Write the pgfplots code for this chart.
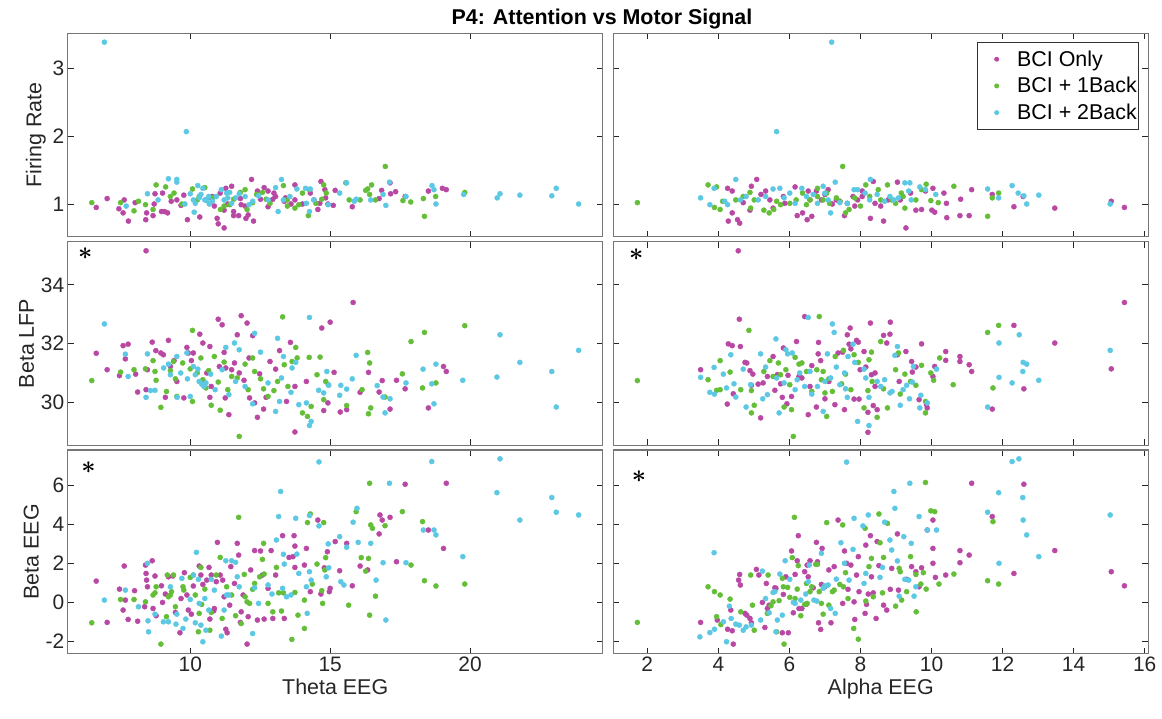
\documentclass[border=0pt]{standalone}
\usepackage{pgfplots}
\pgfplotsset{compat=1.18}
\usepackage{fontspec}
\setmainfont{Liberation Sans}

\definecolor{mag}{RGB}{184,72,164}
\definecolor{grn}{RGB}{100,190,55}
\definecolor{cyn}{RGB}{92,200,228}
\definecolor{boxc}{RGB}{118,118,118}
\definecolor{txt}{RGB}{38,38,38}

\pgfplotsset{
  panel/.style={
    scale only axis, width=535bp, height=203.5bp,
    axis line style={draw=boxc, line width=1.3bp},
    xtick pos=both, ytick pos=both,
    xticklabel pos=lower, yticklabel pos=left,
    tick align=inside,
    major tick length=6bp,
    major tick style={draw=txt, line width=0.8bp},
    minor tick num=0,
    ticklabel style={font=\fontsize{21}{21}\selectfont, text=txt},
    /pgf/number format/assume math mode=true,
    label style={font=\fontsize{21.5}{21.5}\selectfont, text=txt},
  },
  colL/.style={xmin=5.62, xmax=24.74, xtick={10,15,20}},
  colR/.style={xmin=1.04, xmax=16.10, xtick={2,4,6,8,10,12,14,16}, yticklabels={}},
  rowT/.style={ymin=0.53, ymax=3.51, ytick={1,2,3}, xticklabels={}},
  rowM/.style={ymin=28.54, ymax=35.47, ytick={30,32,34}, xticklabels={}},
  rowB/.style={ymin=-2.61, ymax=7.79, ytick={-2,0,2,4,6}},
  dots/.style={only marks, mark=*, color=#1, mark size=2.55bp, mark options={line width=0.4bp, draw=#1, fill=#1}, forget plot},
}
\DeclareRobustCommand{\bast}{{\boldmath$\ast$}}
\newcommand{\sigmark}[2]{\node[font=\fontsize{30}{30}\selectfont, inner sep=0pt, text=black] at (rel axis cs:#1,#2) {\bast};}

\begin{document}
\begin{tikzpicture}
\useasboundingbox (0bp,0bp) rectangle (1162bp,719bp);

\node[font=\bfseries\fontsize{21.5}{21.5}\selectfont, text=black] at (602bp,700bp) {P4: Attention vs Motor Signal};

% ---------------- Firing Rate vs Theta EEG
\begin{axis}[panel, colL, rowT, at={(67.7bp,685.7bp)}, anchor=north west, ylabel={Firing Rate}]
\addplot[dots=mag] coordinates {(6.64,0.96)(7.03,1.09)(7.45,0.94)(7.60,0.88)(7.79,0.76)(7.64,1.07)(8.03,1.03)(8.41,0.78)(8.44,0.88)(8.67,0.84)(8.74,1.16)(8.71,1.01)(8.97,0.90)(9.08,0.90)(9.19,0.88)(9.01,1.17)(9.32,1.05)(9.52,1.07)(9.67,0.99)(9.77,1.14)(9.90,0.78)(10.34,0.82)(10.55,1.07)(10.70,1.11)(10.86,0.98)(10.96,0.80)(11.00,0.72)(11.21,0.66)(11.21,0.92)(11.27,1.24)(11.34,1.01)(11.48,1.27)(11.55,0.90)(11.55,0.84)(11.73,0.84)(11.79,1.09)(11.99,0.80)(12.07,0.85)(12.19,1.37)(12.26,0.76)(12.40,1.20)(12.51,1.08)(12.64,1.25)(12.78,0.97)(12.95,1.08)(13.05,1.12)(13.36,1.05)(13.60,1.01)(13.74,1.29)(14.01,1.01)(14.67,1.34)(14.81,1.22)(14.92,1.01)(15.11,0.99)(15.18,1.21)(15.79,0.97)(16.75,1.09)(16.84,1.21)(17.14,1.32)(17.16,1.16)(17.34,1.19)(17.68,1.12)(18.51,1.20)(19.01,1.24)(19.15,1.22)(10.79,1.12)(11.07,1.17)(11.82,1.00)(11.96,0.98)(12.78,1.20)(12.99,1.17)(13.40,1.10)(13.74,1.07)(14.29,1.17)(14.42,1.07)(14.63,1.02)(14.84,1.10)(14.56,0.93)};
\addplot[dots=grn] coordinates {(6.48,1.03)(7.51,1.03)(7.99,0.91)(8.15,1.05)(8.40,1.00)(8.67,0.93)(8.78,1.29)(9.12,1.26)(9.42,1.17)(9.29,1.12)(9.70,1.01)(10.08,1.23)(10.25,1.07)(10.52,1.25)(10.81,1.10)(11.08,0.93)(11.21,0.98)(11.55,1.08)(11.79,1.18)(11.96,1.22)(12.03,0.93)(12.23,1.03)(12.37,1.15)(12.58,1.18)(12.71,1.08)(12.85,1.02)(13.33,1.28)(13.47,0.98)(13.74,0.95)(13.88,1.00)(14.01,1.17)(14.22,0.84)(14.26,1.22)(14.49,1.02)(14.77,1.29)(14.86,1.17)(14.70,1.08)(15.56,1.32)(15.68,1.07)(16.07,1.07)(16.27,1.21)(16.34,1.23)(16.48,1.29)(16.41,1.15)(16.62,1.07)(16.97,1.56)(17.60,1.06)(17.88,1.04)(18.33,1.09)(18.37,0.83)(18.77,1.12)(19.81,1.18)(10.32,1.12)(11.41,1.00)(13.47,1.07)};
\addplot[dots=cyn] coordinates {(6.93,3.38)(9.86,2.07)(7.71,0.98)(8.47,1.16)(8.85,1.07)(9.22,1.38)(9.52,1.37)(9.52,1.33)(10.00,1.16)(10.14,0.89)(10.27,1.28)(10.32,1.10)(10.45,1.24)(10.59,1.06)(10.68,1.01)(10.93,1.12)(11.11,1.22)(11.30,1.17)(11.41,1.18)(11.62,1.10)(11.75,1.16)(12.23,1.05)(12.44,1.13)(12.78,1.07)(13.05,1.25)(13.14,0.90)(13.26,1.37)(13.33,1.07)(13.56,1.12)(13.81,1.23)(14.12,1.24)(14.29,1.23)(14.15,1.02)(14.26,0.90)(14.42,1.07)(14.93,1.00)(15.34,1.17)(15.59,1.32)(15.86,1.05)(15.93,1.08)(16.45,1.07)(16.89,1.15)(16.99,0.99)(17.12,1.33)(17.71,1.12)(18.64,1.28)(18.71,1.22)(18.78,1.01)(19.77,1.15)(20.97,1.10)(21.07,1.16)(21.78,1.14)(22.92,1.13)(23.08,1.24)(23.88,1.01)(10.11,1.07)(10.18,1.02)(10.38,1.15)(10.52,1.07)(10.66,1.12)(10.79,1.05)(11.21,1.07)(11.34,1.10)(11.48,1.02)(11.96,1.12)(12.10,1.00)(9.81,1.01)};
\end{axis}

% ---------------- Firing Rate vs Alpha EEG
\begin{axis}[panel, colR, rowT, at={(613.2bp,685.7bp)}, anchor=north west,
  legend style={at={(1,1)}, anchor=north east, xshift=-9bp, yshift=-8.5bp,
    draw=black!80, line width=0.9bp, fill=white,
    font=\fontsize{21.5}{21.5}\selectfont, text=black,
    inner xsep=0bp, inner ysep=6.5bp, row sep=5.7bp, cells={anchor=west}}]
\addlegendimage{legend image code/.code={\path (0bp,0bp) (37bp,0bp); \fill[mag] (19bp,0bp) circle (2bp);}}
\addlegendentry{BCI Only}
\addlegendimage{legend image code/.code={\path (0bp,0bp) (37bp,0bp); \fill[grn] (19bp,0bp) circle (2bp);}}
\addlegendentry{BCI + 1Back}
\addlegendimage{legend image code/.code={\path (0bp,0bp) (37bp,0bp); \fill[cyn] (19bp,0bp) circle (2bp);}}
\addlegendentry{BCI + 2Back}
\addplot[dots=mag] coordinates {(4.28,0.76)(4.39,0.88)(4.54,0.78)(4.60,0.73)(4.26,1.24)(4.39,1.20)(4.70,1.03)(4.89,0.92)(4.93,1.27)(5.08,1.37)(5.20,1.15)(5.33,1.20)(5.45,1.07)(5.54,0.95)(5.83,1.12)(5.87,1.02)(6.16,1.26)(6.22,0.84)(6.37,0.88)(6.50,0.78)(6.53,1.20)(6.63,0.83)(6.76,1.20)(6.90,1.07)(7.09,1.22)(7.21,1.01)(7.32,1.07)(7.55,0.84)(7.63,1.02)(7.79,1.12)(7.92,1.07)(8.05,1.20)(8.28,0.80)(8.36,1.34)(8.41,1.02)(8.57,0.98)(8.65,0.76)(8.78,1.07)(9.04,1.33)(9.12,1.07)(9.28,0.66)(9.41,1.17)(9.56,0.92)(9.72,0.93)(9.83,1.20)(10.04,1.24)(10.01,0.92)(10.09,0.89)(10.35,1.17)(10.42,1.02)(10.43,0.81)(10.80,0.84)(11.06,0.84)(10.82,1.08)(11.13,1.22)(11.71,1.15)(12.32,0.97)(12.58,1.12)(13.47,0.95)(15.06,1.05)(15.43,0.96)(7.42,1.05)(7.84,0.98)(8.05,1.12)(6.58,1.07)(7.00,1.15)};
\addplot[dots=grn] coordinates {(1.72,1.03)(3.71,1.29)(3.95,1.26)(3.89,0.96)(4.05,0.93)(4.12,1.05)(4.49,1.07)(4.70,1.12)(4.89,1.18)(5.01,1.07)(5.28,0.92)(5.43,0.88)(5.56,0.93)(5.75,1.00)(6.01,1.02)(6.19,1.07)(6.37,1.17)(6.58,1.07)(6.79,1.24)(6.95,1.07)(7.05,1.17)(7.13,1.02)(7.32,1.10)(7.50,1.56)(7.58,0.88)(7.68,0.93)(7.84,1.10)(8.15,1.29)(8.26,1.12)(8.50,1.22)(8.57,1.07)(8.76,1.29)(8.88,1.07)(9.15,1.17)(9.20,1.12)(9.25,0.95)(9.56,1.07)(9.72,1.22)(9.85,1.30)(9.98,1.06)(10.19,1.03)(10.63,1.27)(11.58,0.83)(11.71,1.10)(11.89,1.17)(4.91,0.95)(5.64,1.05)(6.48,1.00)(6.79,1.12)(7.42,1.05)(8.00,0.98)(8.99,1.02)};
\addplot[dots=cyn] coordinates {(3.50,1.10)(3.76,1.00)(3.88,1.24)(4.18,1.05)(4.26,1.00)(4.49,1.37)(4.62,1.07)(4.78,1.12)(5.12,1.07)(5.33,1.12)(5.54,1.23)(5.64,2.07)(5.73,1.24)(5.85,1.10)(6.01,1.17)(6.16,1.02)(6.35,1.24)(6.48,1.12)(6.67,1.15)(6.79,1.02)(6.95,1.27)(7.00,1.17)(7.09,1.07)(7.16,0.88)(7.19,3.38)(7.29,1.33)(7.42,1.03)(7.63,1.02)(7.82,1.22)(8.13,1.17)(8.28,1.37)(8.47,1.15)(8.68,1.05)(8.83,1.12)(8.94,1.07)(9.07,1.10)(9.25,1.32)(9.39,1.32)(9.36,1.20)(9.43,1.07)(9.67,1.26)(9.83,1.22)(10.12,1.15)(11.58,1.23)(11.89,1.10)(12.27,1.28)(12.44,1.17)(12.60,1.13)(12.68,1.01)(13.02,1.14)(15.03,1.01)(7.92,1.22)(8.26,1.07)};
\end{axis}

% ---------------- Beta LFP vs Theta EEG
\begin{axis}[panel, colL, rowM, at={(67.7bp,477.3bp)}, anchor=north west, ylabel={Beta LFP}]
\addplot[dots=mag] coordinates {(6.64,31.67)(7.03,31.11)(7.47,30.91)(7.60,31.93)(7.68,31.48)(7.78,31.98)(8.05,30.96)(8.12,30.35)(8.42,30.43)(8.42,35.16)(8.47,31.11)(8.64,32.05)(8.77,31.76)(8.95,31.68)(9.04,31.62)(9.11,30.17)(9.22,32.11)(9.29,31.22)(9.42,31.42)(9.52,30.71)(9.77,30.15)(9.88,31.87)(9.93,31.68)(10.04,31.42)(10.11,31.68)(10.34,32.32)(10.45,32.02)(10.59,31.00)(10.70,31.90)(10.70,30.17)(10.75,30.54)(11.00,32.83)(11.04,31.22)(11.14,32.64)(11.21,31.70)(11.25,30.15)(11.27,31.17)(11.38,29.58)(11.48,31.11)(11.58,31.34)(11.68,32.30)(11.75,31.00)(11.82,32.95)(11.92,30.75)(12.03,32.70)(12.10,31.51)(12.12,30.15)(12.23,32.27)(12.30,29.98)(12.40,29.49)(12.48,30.97)(12.62,29.77)(12.71,30.17)(12.85,31.39)(13.05,31.13)(13.19,31.76)(13.44,30.03)(13.58,32.04)(13.74,30.54)(13.74,28.99)(14.15,30.71)(14.70,32.53)(14.77,29.72)(14.92,29.98)(15.00,32.73)(15.14,31.02)(15.36,29.67)(15.59,29.75)(15.82,33.40)(16.07,30.34)(16.37,31.02)(16.75,30.35)(16.86,30.74)(17.14,29.77)(17.37,30.75)(17.68,30.46)(18.51,29.81)(19.05,31.22)(19.15,31.05)};
\addplot[dots=grn] coordinates {(6.48,30.74)(7.51,31.03)(7.99,31.11)(8.40,31.14)(8.67,31.42)(8.74,31.05)(8.78,30.75)(8.95,29.83)(9.15,30.37)(9.29,31.08)(9.40,31.39)(9.47,30.80)(9.52,30.20)(9.73,31.34)(10.00,31.14)(10.08,32.45)(10.08,30.03)(10.25,31.00)(10.38,31.51)(10.45,30.77)(10.56,30.49)(10.66,31.08)(10.75,29.90)(10.86,31.56)(11.00,30.69)(11.07,29.73)(11.21,31.37)(11.34,30.43)(11.48,30.88)(11.68,30.83)(11.75,28.84)(11.96,31.30)(12.07,30.43)(12.23,31.51)(12.30,31.05)(12.51,30.80)(12.62,30.46)(12.78,30.20)(12.99,30.40)(13.12,30.71)(13.30,32.91)(13.36,31.28)(13.49,30.54)(13.64,31.39)(13.77,31.87)(13.82,31.51)(14.01,29.64)(14.19,29.52)(14.25,31.53)(14.32,29.86)(14.53,30.94)(14.64,31.54)(14.84,30.71)(14.77,30.09)(14.93,30.60)(15.59,29.89)(16.14,30.43)(16.34,31.70)(16.41,31.34)(16.45,29.81)(16.37,29.61)(16.96,30.18)(17.58,30.97)(17.89,32.07)(18.30,30.49)(18.37,32.38)(18.78,30.66)(19.81,32.61)};
\addplot[dots=cyn] coordinates {(6.93,32.67)(7.68,31.64)(7.78,30.88)(8.42,30.17)(8.47,31.65)(8.58,30.40)(8.74,30.41)(9.05,31.17)(9.22,31.30)(9.29,30.94)(9.52,31.56)(9.53,30.17)(9.66,31.00)(9.88,31.68)(9.90,30.80)(10.00,30.20)(10.11,31.22)(10.18,30.94)(10.27,31.13)(10.32,30.71)(10.41,30.62)(10.49,30.54)(10.56,30.66)(10.73,30.96)(10.89,30.43)(11.14,31.11)(11.27,31.87)(11.38,30.26)(11.58,32.02)(11.62,30.71)(11.75,31.79)(11.96,30.54)(12.30,32.35)(12.23,29.95)(12.51,31.71)(12.78,30.66)(13.05,29.69)(13.12,32.18)(13.19,30.03)(13.26,30.83)(13.33,31.56)(13.60,30.34)(13.64,31.17)(13.77,31.36)(13.88,29.92)(14.15,29.98)(14.26,32.89)(14.26,29.21)(14.32,29.35)(14.59,30.41)(14.77,30.32)(14.88,31.05)(14.95,30.58)(15.34,30.24)(15.38,30.58)(15.59,30.45)(15.79,30.80)(15.93,31.60)(16.68,30.57)(16.89,30.18)(16.96,29.64)(17.14,30.12)(17.71,30.66)(18.32,31.13)(18.63,30.63)(18.71,29.95)(18.78,31.30)(19.74,30.75)(20.96,30.86)(21.07,32.30)(21.78,31.36)(22.92,31.05)(23.08,29.84)(23.88,31.77)};
\sigmark{0.033}{0.940}
\end{axis}

% ---------------- Beta LFP vs Alpha EEG
\begin{axis}[panel, colR, rowM, at={(613.2bp,477.3bp)}, anchor=north west]
\addplot[dots=mag] coordinates {(3.50,31.11)(4.25,29.94)(4.28,31.99)(4.39,31.93)(4.42,30.29)(4.59,32.83)(4.56,35.16)(4.62,31.90)(4.75,31.36)(4.80,31.34)(4.89,31.08)(4.93,30.58)(4.97,30.96)(5.19,29.47)(5.12,30.62)(5.26,30.66)(5.38,30.88)(5.54,31.56)(5.59,30.41)(5.66,30.94)(5.75,30.63)(5.80,30.17)(5.83,31.85)(5.93,29.95)(5.96,30.92)(6.06,30.20)(6.20,32.07)(6.27,30.88)(6.35,30.83)(6.43,32.92)(6.53,29.58)(6.58,30.54)(6.63,31.25)(6.76,29.84)(6.81,31.65)(6.82,32.04)(6.88,31.42)(7.00,30.12)(7.11,30.71)(7.28,29.92)(7.37,31.68)(7.50,31.71)(7.55,29.75)(7.63,32.30)(7.68,31.98)(7.71,32.53)(7.73,31.82)(7.82,30.11)(7.89,32.11)(7.94,32.05)(7.96,30.11)(7.99,31.11)(8.10,31.73)(8.15,31.20)(8.21,29.66)(8.21,28.98)(8.28,32.70)(8.31,30.94)(8.36,29.89)(8.41,31.00)(8.47,29.75)(8.41,30.54)(8.65,32.28)(8.74,32.02)(8.83,32.32)(8.84,32.73)(9.04,31.62)(9.09,30.71)(9.28,31.73)(9.44,31.39)(9.46,31.03)(9.65,30.09)(9.56,31.20)(9.72,31.99)(9.88,29.81)(9.86,29.92)(10.04,30.88)(10.09,31.22)(10.40,31.73)(10.40,31.43)(10.80,31.56)(10.80,31.39)(11.06,31.28)(11.13,31.05)(11.71,29.77)(12.32,32.62)(12.60,30.46)(13.47,32.02)(15.06,31.14)(15.43,33.40)};
\addplot[dots=grn] coordinates {(1.72,30.74)(3.71,30.77)(3.95,30.41)(4.05,30.43)(4.05,31.42)(4.33,31.03)(4.63,30.43)(4.86,32.45)(4.93,30.40)(5.01,29.90)(4.93,29.64)(5.28,31.05)(5.45,31.42)(5.54,30.88)(5.69,31.34)(5.75,30.94)(5.85,29.84)(5.90,31.11)(6.01,30.60)(6.11,28.84)(6.06,29.75)(6.16,31.53)(6.27,31.30)(6.35,31.34)(6.48,31.05)(6.63,30.37)(6.77,31.11)(6.84,32.92)(6.90,30.77)(6.95,31.05)(7.00,30.32)(7.05,29.52)(7.11,30.80)(7.21,30.37)(7.29,31.56)(7.47,30.63)(7.52,31.77)(7.58,30.96)(7.73,30.43)(7.82,31.62)(7.94,31.36)(8.10,29.81)(8.21,30.40)(8.24,31.45)(8.31,31.71)(8.33,30.71)(8.47,29.49)(8.57,32.07)(8.65,30.46)(8.76,29.81)(8.99,31.11)(9.07,31.68)(9.12,30.28)(9.25,30.96)(9.41,30.71)(9.56,30.58)(9.72,31.26)(9.83,30.03)(9.83,29.64)(9.98,31.00)(10.06,30.75)(10.23,31.51)(10.61,30.60)(11.58,32.38)(11.73,30.49)(11.89,32.62)};
\addplot[dots=cyn] coordinates {(3.50,30.85)(3.76,30.34)(3.89,30.28)(3.88,31.19)(4.14,30.96)(4.23,30.49)(4.35,31.62)(4.44,30.63)(4.49,30.18)(4.70,31.13)(4.78,29.84)(4.91,30.60)(5.19,31.65)(5.25,30.12)(5.33,31.20)(5.38,30.26)(5.62,32.16)(5.64,30.83)(5.71,29.64)(5.85,30.66)(5.90,31.79)(5.95,31.65)(6.08,31.68)(6.16,30.43)(6.22,30.77)(6.29,31.00)(6.43,30.54)(6.53,32.89)(6.58,31.05)(6.63,30.28)(6.79,30.54)(6.95,29.69)(7.00,30.71)(7.07,31.65)(7.16,30.83)(7.21,32.67)(7.26,32.38)(7.32,31.20)(7.42,30.60)(7.55,31.00)(7.58,30.46)(7.63,30.17)(7.65,31.56)(7.79,31.98)(7.84,31.36)(7.92,29.35)(8.10,31.13)(8.15,30.83)(8.24,30.17)(8.24,29.21)(8.47,30.71)(8.57,30.54)(8.68,30.77)(8.83,30.32)(8.89,30.37)(8.97,31.60)(9.04,31.90)(9.12,29.90)(9.20,30.43)(9.30,30.58)(9.38,30.12)(9.46,30.69)(9.49,31.22)(9.67,29.81)(9.70,30.24)(9.88,29.98)(10.14,31.13)(11.58,29.84)(11.90,30.85)(11.90,32.02)(12.27,30.66)(12.47,32.30)(12.57,31.05)(12.58,31.36)(12.68,31.30)(13.02,30.75)(15.03,31.77)};
\sigmark{0.043}{0.937}
\end{axis}

% ---------------- Beta EEG vs Theta EEG
\begin{axis}[panel, colL, rowB, at={(67.7bp,269bp)}, anchor=north west, ylabel={Beta EEG}, xlabel={Theta EEG}]
\addplot[dots=mag] coordinates {(6.64,1.09)(7.03,-1.02)(7.47,0.68)(7.60,-0.39)(7.64,1.86)(7.68,0.12)(7.78,-0.87)(8.01,0.60)(8.12,-0.96)(8.40,1.91)(8.42,1.48)(8.44,1.14)(8.47,0.80)(8.37,-0.22)(8.64,2.13)(8.67,-0.31)(8.74,1.35)(8.78,-0.68)(8.97,0.85)(9.01,0.00)(9.11,0.43)(9.22,1.31)(9.38,1.35)(9.47,-0.51)(9.63,-1.55)(9.67,0.20)(9.79,1.52)(9.88,0.38)(9.93,-0.39)(10.04,-0.60)(10.11,0.84)(10.32,1.86)(10.38,1.40)(10.45,0.92)(10.59,1.14)(10.67,1.79)(10.70,-0.85)(10.75,1.40)(10.84,-0.43)(10.86,-0.31)(10.93,1.06)(10.97,3.07)(11.07,1.40)(11.16,1.14)(11.21,0.29)(11.27,-1.37)(11.32,-1.55)(11.41,-0.14)(11.45,1.83)(11.58,0.97)(11.68,3.02)(11.73,2.42)(11.79,-1.02)(11.82,-0.48)(11.89,0.38)(12.03,-2.13)(12.07,-0.73)(12.16,1.66)(12.30,2.65)(12.40,-0.90)(12.51,2.63)(12.58,1.40)(12.64,-0.85)(12.78,0.72)(12.89,2.65)(12.95,-0.82)(13.05,1.40)(13.30,3.41)(13.36,-0.82)(13.53,2.30)(13.67,2.34)(13.71,3.41)(13.74,1.79)(13.74,2.88)(14.08,1.91)(14.15,2.76)(14.29,0.55)(14.56,4.21)(14.67,0.43)(14.79,1.77)(14.90,2.59)(14.97,0.55)(15.00,0.72)(15.18,3.11)(15.34,1.62)(15.59,3.02)(15.79,0.85)(16.07,1.86)(16.34,1.66)(16.75,3.50)(16.78,4.47)(16.86,4.21)(17.14,4.35)(17.37,2.08)(17.68,6.04)(18.51,3.70)(19.05,2.76)(19.15,6.09)};
\addplot[dots=grn] coordinates {(6.48,-1.04)(7.51,0.15)(7.99,0.15)(8.40,0.03)(8.67,0.38)(8.74,0.49)(8.78,0.80)(8.95,-2.13)(9.15,-0.73)(9.18,1.40)(9.22,0.29)(9.29,0.38)(9.33,0.55)(9.40,1.40)(9.47,-0.22)(9.74,0.80)(9.77,0.63)(10.00,1.28)(10.11,1.40)(10.18,0.38)(10.29,-1.50)(10.32,-0.56)(10.38,1.79)(10.41,-0.10)(10.52,0.68)(10.70,-1.42)(10.75,-0.51)(10.93,1.40)(11.07,2.30)(11.14,-0.82)(11.30,0.80)(11.48,0.38)(11.62,-0.68)(11.73,4.35)(11.82,-1.08)(11.93,1.43)(11.96,0.29)(12.03,0.03)(12.12,-0.05)(12.23,0.67)(12.30,0.97)(12.48,1.31)(12.58,2.20)(12.62,3.02)(12.64,1.45)(12.78,-0.05)(12.95,-0.48)(13.08,1.79)(13.16,0.49)(13.26,-0.44)(13.33,0.49)(13.63,-1.89)(13.74,0.51)(13.85,-0.65)(14.08,-1.33)(14.08,0.12)(14.19,4.08)(14.29,4.52)(14.36,0.94)(14.53,1.96)(14.70,0.60)(14.73,-0.05)(14.77,4.08)(14.81,1.66)(14.84,2.29)(15.66,-0.14)(15.93,4.64)(16.11,2.29)(16.27,1.60)(16.37,2.25)(16.41,-0.65)(16.45,3.96)(16.51,3.79)(16.41,6.09)(16.62,0.32)(16.96,3.92)(17.58,4.64)(17.89,1.91)(18.30,4.13)(18.37,1.11)(18.78,0.84)(19.81,0.94)};
\addplot[dots=cyn] coordinates {(6.93,0.12)(7.68,0.63)(8.15,-0.22)(8.47,2.00)(8.49,-0.94)(8.51,-1.50)(8.74,-0.60)(9.04,-0.99)(9.22,-0.99)(9.29,0.80)(9.49,-1.11)(9.52,-0.60)(9.70,1.23)(9.74,-1.33)(9.84,-0.85)(10.00,0.15)(10.11,1.40)(10.18,-1.04)(10.22,2.56)(10.29,1.18)(10.32,-0.05)(10.38,-1.16)(10.45,-2.01)(10.52,0.20)(10.56,-1.42)(10.66,-0.39)(10.75,1.18)(10.86,0.63)(11.11,-1.72)(11.21,-0.39)(11.27,2.13)(11.30,0.38)(11.38,0.38)(11.48,2.13)(11.62,2.05)(11.68,1.31)(11.75,0.80)(12.23,-1.59)(12.30,0.75)(12.44,-0.05)(12.78,0.89)(12.92,0.43)(13.08,3.19)(13.16,4.39)(13.23,5.67)(13.30,0.72)(13.33,2.46)(13.36,1.96)(13.44,0.29)(13.60,0.38)(13.77,4.30)(13.81,2.47)(13.88,1.48)(14.15,0.80)(14.18,-0.56)(14.26,4.44)(14.26,1.57)(14.32,1.14)(14.60,7.18)(14.60,3.91)(14.86,1.31)(14.93,2.99)(14.95,1.77)(15.34,3.36)(15.38,1.06)(15.49,0.89)(15.59,2.82)(15.82,4.10)(15.96,4.81)(16.00,3.07)(16.45,3.02)(16.64,1.14)(16.89,2.03)(16.99,-0.90)(17.12,6.09)(17.71,2.03)(18.33,3.70)(18.63,7.20)(18.71,3.70)(18.78,3.45)(19.74,2.34)(20.96,5.61)(21.07,7.34)(21.78,4.21)(22.92,5.36)(23.08,4.61)(23.88,4.47)};
\sigmark{0.039}{0.915}
\end{axis}

% ---------------- Beta EEG vs Alpha EEG
\begin{axis}[panel, colR, rowB, at={(613.2bp,269bp)}, anchor=north west, xlabel={Alpha EEG}]
\addplot[dots=mag] coordinates {(3.50,-1.02)(3.97,-0.90)(4.26,-1.37)(4.35,-0.39)(4.42,-2.13)(4.39,-1.45)(4.57,1.14)(4.60,1.43)(4.62,0.89)(4.75,-0.56)(4.80,-0.65)(4.89,-0.82)(4.93,-1.04)(5.07,1.69)(5.14,1.40)(5.24,0.00)(5.31,-1.28)(5.35,0.97)(5.38,-0.31)(5.43,-0.14)(5.59,0.75)(5.62,0.72)(5.80,-1.55)(5.83,0.41)(5.90,1.31)(5.97,-1.55)(6.06,2.63)(6.11,-0.53)(6.16,1.43)(6.22,2.13)(6.25,3.41)(6.27,-0.31)(6.35,-0.31)(6.43,1.57)(6.48,-0.09)(6.50,1.91)(6.53,1.31)(6.58,2.13)(6.67,0.75)(6.76,3.07)(6.79,2.08)(6.82,-1.04)(6.88,-1.38)(6.90,0.92)(6.92,2.76)(7.00,0.80)(7.11,1.66)(7.17,-1.04)(7.26,1.83)(7.37,4.21)(7.50,-0.05)(7.55,2.63)(7.61,2.00)(7.65,0.67)(7.73,1.91)(7.82,0.03)(7.84,-0.87)(7.89,1.40)(7.94,2.34)(7.96,0.55)(8.13,-0.56)(8.15,2.93)(8.17,-0.10)(8.22,0.43)(8.28,3.41)(8.31,1.31)(8.36,0.49)(8.44,-0.82)(8.47,3.11)(8.52,1.88)(8.65,-0.14)(8.74,-0.39)(8.84,0.67)(8.88,1.74)(9.04,3.50)(9.07,0.63)(9.30,1.18)(9.44,1.83)(9.56,1.57)(9.65,0.80)(9.72,1.77)(9.88,3.70)(10.04,4.21)(10.04,2.76)(10.04,2.00)(10.11,1.28)(10.40,1.40)(10.80,2.65)(10.80,2.03)(11.06,2.42)(11.13,6.09)(11.71,4.39)(12.32,1.48)(12.60,6.04)(13.47,2.65)(15.06,1.57)(15.43,0.85)};
\addplot[dots=grn] coordinates {(1.72,-1.02)(3.71,0.80)(3.89,0.55)(3.95,-0.73)(4.05,0.38)(4.07,-1.13)(4.33,0.17)(4.63,-0.48)(4.91,1.40)(4.96,-0.14)(5.01,-1.42)(5.38,-0.56)(5.40,1.40)(5.48,-0.17)(5.54,0.03)(5.64,-1.50)(5.71,0.09)(5.80,1.23)(5.83,0.80)(5.85,-2.13)(5.95,0.77)(6.01,0.26)(6.08,2.29)(6.14,4.35)(6.16,0.20)(6.22,0.68)(6.25,1.88)(6.32,-0.68)(6.43,-0.10)(6.48,0.97)(6.50,-0.05)(6.58,0.55)(6.63,0.80)(6.74,1.95)(6.79,1.95)(6.84,0.55)(6.90,-0.05)(6.95,-0.60)(6.98,0.80)(7.05,4.08)(7.11,-0.14)(7.21,0.55)(7.26,0.63)(7.42,0.92)(7.50,3.96)(7.52,0.80)(7.58,1.52)(7.65,0.20)(7.81,-1.33)(7.94,-1.88)(8.13,3.79)(8.15,0.07)(8.24,1.83)(8.31,2.25)(8.36,0.29)(8.52,4.52)(8.55,3.05)(8.62,0.49)(8.65,2.30)(8.76,4.04)(8.99,-0.19)(9.09,1.74)(9.12,1.57)(9.16,0.12)(9.30,0.55)(9.41,2.34)(9.56,1.43)(9.57,-0.48)(9.70,0.94)(9.77,1.52)(9.83,6.13)(9.85,0.68)(9.98,4.68)(10.09,4.64)(10.21,0.94)(10.63,1.45)(11.58,1.11)(11.73,4.13)(11.89,0.94)};
\addplot[dots=cyn] coordinates {(3.48,-1.76)(3.76,-1.54)(3.88,2.54)(3.89,-1.37)(4.14,-0.99)(4.23,-2.01)(4.31,-0.19)(4.36,-0.82)(4.49,-1.11)(4.59,-1.16)(4.70,-1.42)(4.78,-1.25)(4.93,-1.16)(5.19,-0.90)(5.24,1.60)(5.33,0.20)(5.43,-0.53)(5.54,0.51)(5.59,0.55)(5.62,-1.50)(5.66,-0.90)(5.73,1.45)(5.80,-0.65)(5.88,2.13)(6.01,1.18)(6.11,0.00)(6.16,-0.05)(6.32,0.12)(6.46,0.43)(6.53,1.06)(6.56,1.91)(6.69,0.12)(6.77,0.07)(6.90,2.51)(6.95,0.72)(7.00,0.85)(7.09,0.89)(7.16,-0.31)(7.29,-0.56)(7.32,1.19)(7.45,3.05)(7.55,2.00)(7.61,7.17)(7.68,1.14)(7.79,2.71)(7.82,4.30)(8.07,3.91)(8.10,0.97)(8.15,1.48)(8.22,4.47)(8.55,1.28)(8.62,1.79)(8.68,4.10)(8.83,3.19)(8.88,2.68)(8.94,5.67)(8.97,4.81)(9.04,2.12)(9.09,0.32)(9.22,3.36)(9.25,1.18)(9.36,1.14)(9.39,6.09)(9.43,3.02)(9.51,0.32)(9.56,0.80)(9.65,4.39)(9.88,3.70)(10.14,3.70)(11.58,4.61)(11.89,5.61)(11.90,2.00)(12.27,7.20)(12.46,7.34)(12.57,5.36)(12.58,4.21)(12.68,3.45)(13.02,2.34)(15.03,4.47)};
\sigmark{0.048}{0.870}
\end{axis}
\end{tikzpicture}
\end{document}
